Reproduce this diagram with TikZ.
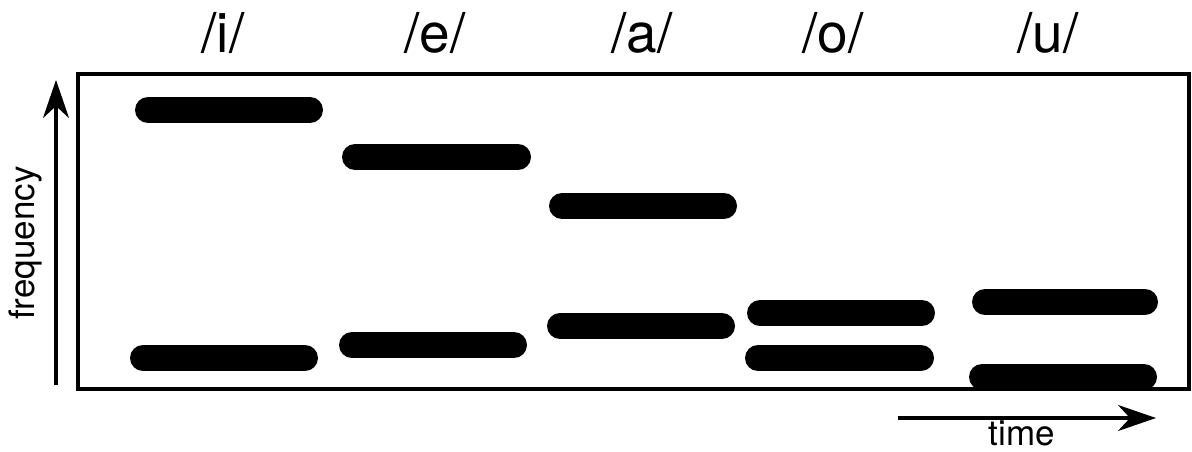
\documentclass[tikz,border=0pt]{standalone}
\usepackage{fontspec}
\setmainfont{TeX Gyre Heros}
\usetikzlibrary{arrows.meta}

\begin{document}
\begin{tikzpicture}[
      x=1pt, y=-1pt,
      formant/.style={line width=26pt, line cap=round},
      vowel/.style={anchor=base, font=\fontsize{55}{60}\selectfont},
      axislabel/.style={font=\fontsize{35}{40}\selectfont},
      axis/.style={line width=3.5pt, -{Stealth[length=38pt, width=26pt, inset=12pt]}}
    ]
    \useasboundingbox (0,0) rectangle (1192,451);
    % frame of the spectrogram
    \draw[line width=3.5pt] (78,74) rectangle (1189,389);
    % vowel labels
    \node[vowel] (vi) at (223,52) {/i/};
    \node[vowel] (ve) at (435,52) {/e/};
    \node[vowel] (va) at (642,52) {/a/};
    \node[vowel] (vo) at (833,52) {/o/};
    \node[vowel] (vu) at (1048,52) {/u/};
    % formants
    \draw[formant] (148,110) -- (310,110);
    \draw[formant] (143,358) -- (305,358);
    \draw[formant] (355,157) -- (518,157);
    \draw[formant] (352,345) -- (514,345);
    \draw[formant] (562,206) -- (724,206);
    \draw[formant] (560,326) -- (722,326);
    \draw[formant] (760,313) -- (922,313);
    \draw[formant] (758,358) -- (921,358);
    \draw[formant] (985,302) -- (1145,302);
    \draw[formant] (982,377) -- (1144,377);
    % axes
    \coordinate (f0) at (56,385);
    \coordinate (f1) at (56,80);
    \coordinate (t0) at (898,418);
    \coordinate (t1) at (1156,418);
    \draw[axis] (f0) -- (f1);
    \draw[axis] (t0) -- (t1);
    \node[axislabel, rotate=90] (freq) at (26,243) {frequency};
    \node[axislabel, anchor=base] (time) at (1022,445) {time};
  \end{tikzpicture}
\end{document}
